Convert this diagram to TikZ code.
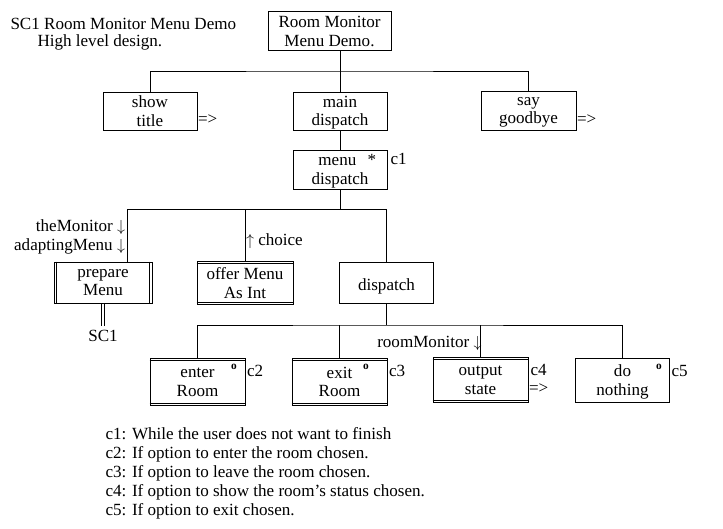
\documentclass[tikz,border=0pt]{standalone}
\usepackage{fontspec}
\setmainfont{Liberation Serif}
\usetikzlibrary{calc}
\begin{document}
\begin{tikzpicture}[x=0.75pt,y=-0.75pt,line width=0.75pt,
  every node/.style={font=\fontsize{12.8}{14}\selectfont, inner sep=0pt},
  bx/.style n args={2}{draw, align=center, minimum width=#1*0.75pt, minimum height=#2*0.75pt,
     text depth=0pt, execute at begin node={\vphantom{Ah}}},
  lbl/.style={anchor=base west},
  omark/.style={font=\fontsize{8.5}{8}\selectfont\bfseries}
]
\useasboundingbox (0,0) rectangle (723,528);

% title
\node[lbl] (t1) at (10,29.5) {SC1 Room Monitor Menu Demo};
\node[lbl] (t2) at (37,46) {High level design.};

% boxes
\node[bx={123}{39}] (top) at (329.5,31.5) {Room Monitor\\Menu Demo.};
\node[bx={94}{38}] (show) at (150,111) {show\\title};
\node[bx={94}{38}] (main) at (340,111) {main\\dispatch};
\node[bx={95}{39}] (say) at (528.5,110.5) {say\\goodbye};
\node[bx={94}{39}] (menu) at (340,169.5) {\hspace*{11pt}menu\ \ \,*\\dispatch};
\node[bx={98}{41}] (prepare) at (103,282.5) {prepare\\Menu};
\node[bx={96}{42.6}] (offer) at (245,283) {offer Menu\\As Int};
\node[bx={94}{41}] (dispatch) at (386.5,282.5) {\raisebox{-1.6pt}{dispatch}};
\node[bx={95}{46.6}] (enter) at (197.5,382) {enter\\Room};
\node[bx={95}{46.6}] (exit) at (339.5,382) {exit\\Room};
\node[bx={95}{45.4}] (output) at (480.5,380) {output\\state};
\node[bx={94}{44.3}] (nothing) at (622.5,380.2) {do\\nothing};

% double borders
\draw ([xshift=2.2pt]prepare.north west) -- ([xshift=2.2pt]prepare.south west);
\draw ([xshift=-2.2pt]prepare.north east) -- ([xshift=-2.2pt]prepare.south east);
\foreach \b in {offer,enter,exit,output}{
  \draw ([yshift=-1.8pt]\b.north west) -- ([yshift=-1.8pt]\b.north east);
  \draw ([yshift=1.9pt]\b.south west) -- ([yshift=1.9pt]\b.south east);
}

% connectors
\coordinate (j1) at (340,71);
\draw (top.south -| main.north) -- (main.north);
\draw (show.north) |- (j1) -| (say.north);
\draw (main.south) -- (menu.north);
\coordinate (j2) at (340,209);
\draw (menu.south) -- (j2);
\draw ([xshift=18pt]prepare.north) |- (dispatch.north |- j2) -- (dispatch.north);
\draw (offer.north) -- (offer.north |- j2);
\coordinate (j3) at (386.5,325);
\draw (dispatch.south) -- (j3);
\draw (enter.north) |- (j3) -| (nothing.north);
\draw (exit.north) -- (exit.north |- j3);
\draw (output.north) -- (output.north |- j3);

\node (sc1) at (103,336) {SC1};
\draw[double, double distance=1pt] (prepare.south) -- ++(0,22);

% labels
\node[lbl] (c1) at (390,164.5) {c1};
\node[lbl] (ar1) at (197.5,124.5) {=>};
\node[lbl] (ar2) at (576.5,124.5) {=>};
\node[lbl] (ar3) at (528.5,393.5) {=>};
\node[lbl] (c2) at (246.5,376) {c2};
\node[lbl] (c3) at (388.5,376) {c3};
\node[lbl] (c4) at (530,375) {c4};
\node[lbl] (c5) at (671,376) {c5};
\node[omark] (o1) at (234,367) {o};
\node[omark] (o2) at (366,367) {o};
\node[omark] (o3) at (659,367) {o};
\node[anchor=base east] (tm) at (125.5,231.5) {theMonitor $\downarrow$};
\node[anchor=base east] (am) at (125.5,250.5) {adaptingMenu $\downarrow$};
\node[anchor=base west] (ch) at (245.5,245.5) {$\uparrow$ choice};
\node[anchor=base east] (rm) at (482,347.5) {roomMonitor $\downarrow$};

% notes
\node[anchor=north west, align=left, font=\fontsize{12.8}{14.3}\selectfont] (notes) at (105,427)
  {c1: While the user does not want to finish\\
   c2: If option to enter the room chosen.\\
   c3: If option to leave the room chosen.\\
   c4: If option to show the room's status chosen.\\
   c5: If option to exit chosen.};
\end{tikzpicture}
\end{document}
